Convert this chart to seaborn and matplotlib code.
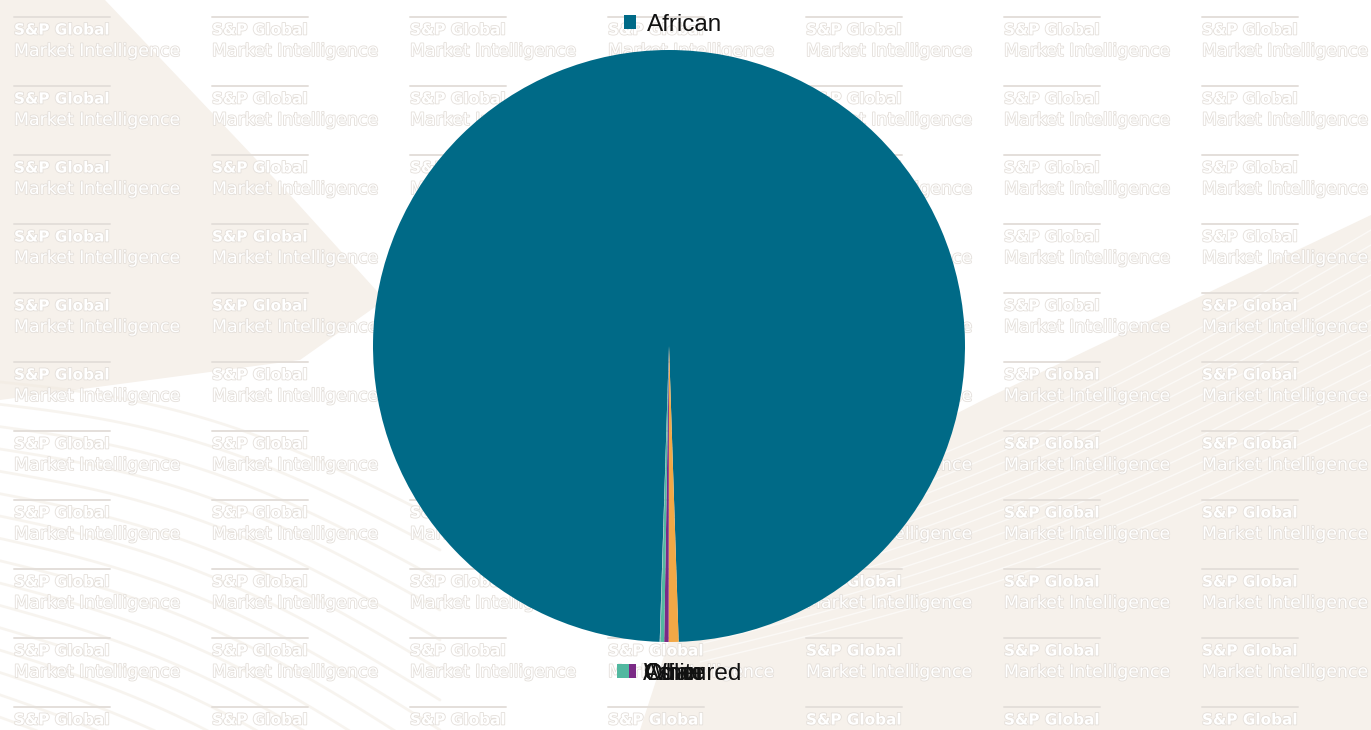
import matplotlib
matplotlib.use("Agg")
import numpy as np
import matplotlib.pyplot as plt
import matplotlib.patheffects as pe
from matplotlib.patches import Polygon
import seaborn as sns

# Population groups and their share of the total (%)
groups = ["African", "White", "Asian", "Coloured", "Other"]
shares = [98.98, 0.54, 0.24, 0.21, 0.03]
group_colors = ["#006a87", "#f2a846", "#7b2a86", "#52b8a0", "#9fb7c4"]

sns.set_theme(style="white")
palette = sns.color_palette(group_colors)
plt.rcParams["font.family"] = ["Liberation Sans", "DejaVu Sans"]

W, H = 1371, 730
fig = plt.figure(figsize=(W / 100, H / 100), dpi=100)
fig.patch.set_facecolor("white")

# ---- decorative backdrop (pixel-like coordinates) ----
bg = fig.add_axes([0, 0, 1, 1], zorder=0)
bg.set_xlim(0, W)
bg.set_ylim(H, 0)
bg.axis("off")

beige = "#f6f1eb"
bg.add_patch(Polygon([(0, 0), (105, 0), (290, 195), (385, 300), (300, 360), (0, 400)],
                     closed=True, facecolor=beige, edgecolor="none"))
bg.add_patch(Polygon([(1371, 215), (1371, 730), (640, 730), (700, 545), (983, 400)],
                     closed=True, facecolor=beige, edgecolor="none"))
# sweeping stripes
t = np.linspace(0, 1, 60)
for k in range(14):
    x = 700 + 671 * t
    y = (545 + 9 * k) + (-315 + 6 * k) * t + 25 * np.sin(np.pi * t)
    bg.plot(x, y, color="white", lw=1.0, alpha=0.6)
for k in range(16):
    x = -20 + 460 * t
    y = (380 + 22 * k) + (140 + 8 * k) * t - 30 * np.sin(np.pi * t)
    bg.plot(x, y, color="#f1eae1", lw=2.0, alpha=0.5)

# repeated brand watermark
wm_edge = "#e4dfda"
stroke = [pe.withStroke(linewidth=1.2, foreground=wm_edge)]
for col in range(7):
    x0 = 14 + 198 * col
    for row in range(11):
        y0 = 30 + 69 * row
        bg.plot([x0, x0 + 96], [y0 - 13, y0 - 13], color=wm_edge, lw=1.4)
        bg.text(x0, y0, "S&P Global", family="DejaVu Sans", weight="bold",
                fontsize=11, color="white", va="center", ha="left", path_effects=stroke)
        bg.text(x0, y0 + 21, "Market Intelligence", family="DejaVu Sans",
                fontsize=12.5, color="white", va="center", ha="left", path_effects=stroke)

# ---- pie ----
cx, cy, r = 669, 346, 296
ax = fig.add_axes([(cx - r) / W, (H - cy - r) / H, 2 * r / W, 2 * r / H], zorder=2)
wedges, _ = ax.pie(shares, colors=palette, startangle=268.2, counterclock=False,
                   radius=1, wedgeprops=dict(linewidth=0))
ax.set_xlim(-1, 1)
ax.set_ylim(-1, 1)
ax.axis("off")

fs = 17.5
common = dict(loc="center left", frameon=False, fontsize=fs, borderpad=0,
              borderaxespad=0, handlelength=0.5, handleheight=0.5,
              labelcolor="#111111")

lg = fig.legend([wedges[0]], [groups[0]], bbox_to_anchor=(624 / W, 1 - 25 / H),
                handletextpad=0.45, **common)
lg.set_zorder(3)

for i in [4, 1, 2]:
    lg = fig.legend([wedges[i]], [groups[i]], bbox_to_anchor=(624 / W, 1 - 674 / H),
                    handletextpad=0.3, **common)
    lg.set_zorder(3)
lg = fig.legend([wedges[3]], [groups[3]], bbox_to_anchor=(617 / W, 1 - 674 / H),
                handletextpad=0.6, **common)
lg.set_zorder(3)

fig.savefig("out.png", dpi=100, facecolor="white")
